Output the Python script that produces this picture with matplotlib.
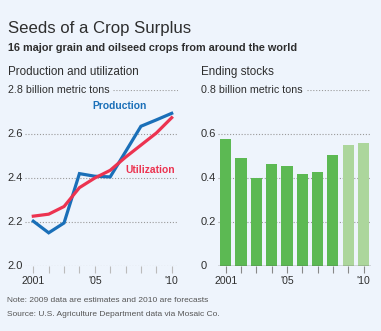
import matplotlib
matplotlib.use("Agg")
import matplotlib.pyplot as plt
import matplotlib.transforms as mtransforms

# Global production and utilization, billion metric tons
years = [2001, 2002, 2003, 2004, 2005, 2006, 2007, 2008, 2009, 2010]
production = [2.203, 2.150, 2.195, 2.420, 2.408, 2.405, 2.520, 2.636, 2.665, 2.695]
utilization = [2.226, 2.235, 2.270, 2.356, 2.400, 2.435, 2.495, 2.550, 2.605, 2.675]

# Ending stocks, billion metric tons (2009 estimate, 2010 forecast)
stocks = [0.576, 0.489, 0.401, 0.462, 0.454, 0.416, 0.429, 0.503, 0.550, 0.558]
forecast = [False] * 8 + [True, True]

year_labels = ["2001", "'05", "'10"]
year_label_pos = [2001, 2005, 2010]
left_ticks = [2.0, 2.2, 2.4, 2.6]
right_ticks = [0.0, 0.2, 0.4, 0.6]
right_tick_labels = ["0", "0.2", "0.4", "0.6"]

BG = "#eef4fc"
BLUE = "#1a6fb8"
RED = "#ec3350"
GREEN = "#5cb953"
LIGHT_GREEN = "#acd69c"
TEXT = "#2e2e2e"
GRID = "#9a9a9a"
FONT = "Liberation Sans"

W, H = 381, 331
fig = plt.figure(figsize=(W / 100, H / 100), dpi=100, facecolor=BG)


def fx(x):
    return x / W


def fy(y):
    return 1 - y / H


def add_axes(x0, x1, y_top, y_bot):
    ax = fig.add_axes([fx(x0), fy(y_bot), fx(x1 - x0), (y_bot - y_top) / H])
    ax.set_facecolor("none")
    for s in ax.spines.values():
        s.set_visible(False)
    ax.set_yticks([])
    return ax


dotted = dict(color=GRID, linewidth=0.8, linestyle=(0, (1, 1.6)))

# Titles
fig.text(fx(8), fy(33), "Seeds of a Crop Surplus", fontsize=12.1, family=FONT,
         color=TEXT, va="baseline")
fig.text(fx(8), fy(51), "16 major grain and oilseed crops from around the world",
         fontsize=7.8, family=FONT, weight="bold", color=TEXT, va="baseline")
fig.text(fx(8), fy(75), "Production and utilization", fontsize=8.4, family=FONT,
         color=TEXT, va="baseline")
fig.text(fx(201), fy(75), "Ending stocks", fontsize=8.4, family=FONT,
         color=TEXT, va="baseline")

# Left panel: production vs utilization
ax1 = add_axes(25, 178, 90.3, 265.7)
ax1.set_xlim(2000.46, 2010.41)
ax1.set_ylim(2.0, 2.8)
for v in left_ticks:
    ax1.axhline(v, zorder=0, **dotted)
ax1.axhline(2.8, xmin=(113 - 25) / (178 - 25), zorder=0, **dotted)
ax1.plot(years, production, color=BLUE, linewidth=2.3, solid_joinstyle="miter")
ax1.plot(years, utilization, color=RED, linewidth=2.3, solid_joinstyle="miter")
ax1.text(2006.6, 2.727, "Production", color=BLUE, fontsize=7.4, family=FONT,
         weight="bold", ha="center", va="center")
ax1.text(2008.6, 2.437, "Utilization", color=RED, fontsize=7.4, family=FONT,
         weight="bold", ha="center", va="center")

# Right panel: ending stocks
ax2 = add_axes(218, 371.3, 90.3, 265.7)
ax2.set_xlim(2000.5, 2010.5)
ax2.set_ylim(0, 0.8)
for v in right_ticks[1:]:
    ax2.axhline(v, zorder=0, **dotted)
ax2.axhline(0.8, xmin=(307 - 218) / (371.3 - 218), zorder=0, **dotted)
bar_colors = [LIGHT_GREEN if f else GREEN for f in forecast]
ax2.bar(years, stocks, width=0.72, color=bar_colors, zorder=2)
ax2.axhline(0, color="#555555", linewidth=1.0, zorder=3)

# Axis ticks and labels
for ax, tick_color in ((ax1, "#bbbbbb"), (ax2, "#888888")):
    ax.set_xticks(years)
    ax.set_xticklabels([])
    ax.tick_params(axis="x", length=5, width=0.8, color=tick_color, direction="out")
    lo, hi = ax.get_ylim()
    for pos, lab in zip(year_label_pos, year_labels):
        ax.text(pos, lo - 0.085 * (hi - lo), lab, ha="center", va="center",
                fontsize=7.6, family=FONT, color=TEXT)

t1 = mtransforms.blended_transform_factory(fig.transFigure, ax1.transData)
for v in left_ticks:
    ax1.text(fx(7), v, f"{v:.1f}", transform=t1, fontsize=8.0, family=FONT,
             color=TEXT, va="center", ha="left")
ax1.text(fx(8), 2.8, "2.8 billion metric tons", transform=t1, fontsize=7.7,
         family=FONT, color=TEXT, va="center", ha="left")

t2 = mtransforms.blended_transform_factory(fig.transFigure, ax2.transData)
for v, lab in zip(right_ticks, right_tick_labels):
    ax2.text(fx(201), v, lab, transform=t2, fontsize=8.0, family=FONT,
             color=TEXT, va="center", ha="left")
ax2.text(fx(201), 0.8, "0.8 billion metric tons", transform=t2, fontsize=7.7,
         family=FONT, color=TEXT, va="center", ha="left")

# Footnotes
fig.text(fx(7), fy(302), "Note: 2009 data are estimates and 2010 are forecasts",
         fontsize=6.0, family=FONT, color="#555555", va="baseline")
fig.text(fx(7), fy(316), "Source: U.S. Agriculture Department data via Mosaic Co.",
         fontsize=6.0, family=FONT, color="#555555", va="baseline")

fig.savefig("out.png", dpi=100, facecolor=BG)
